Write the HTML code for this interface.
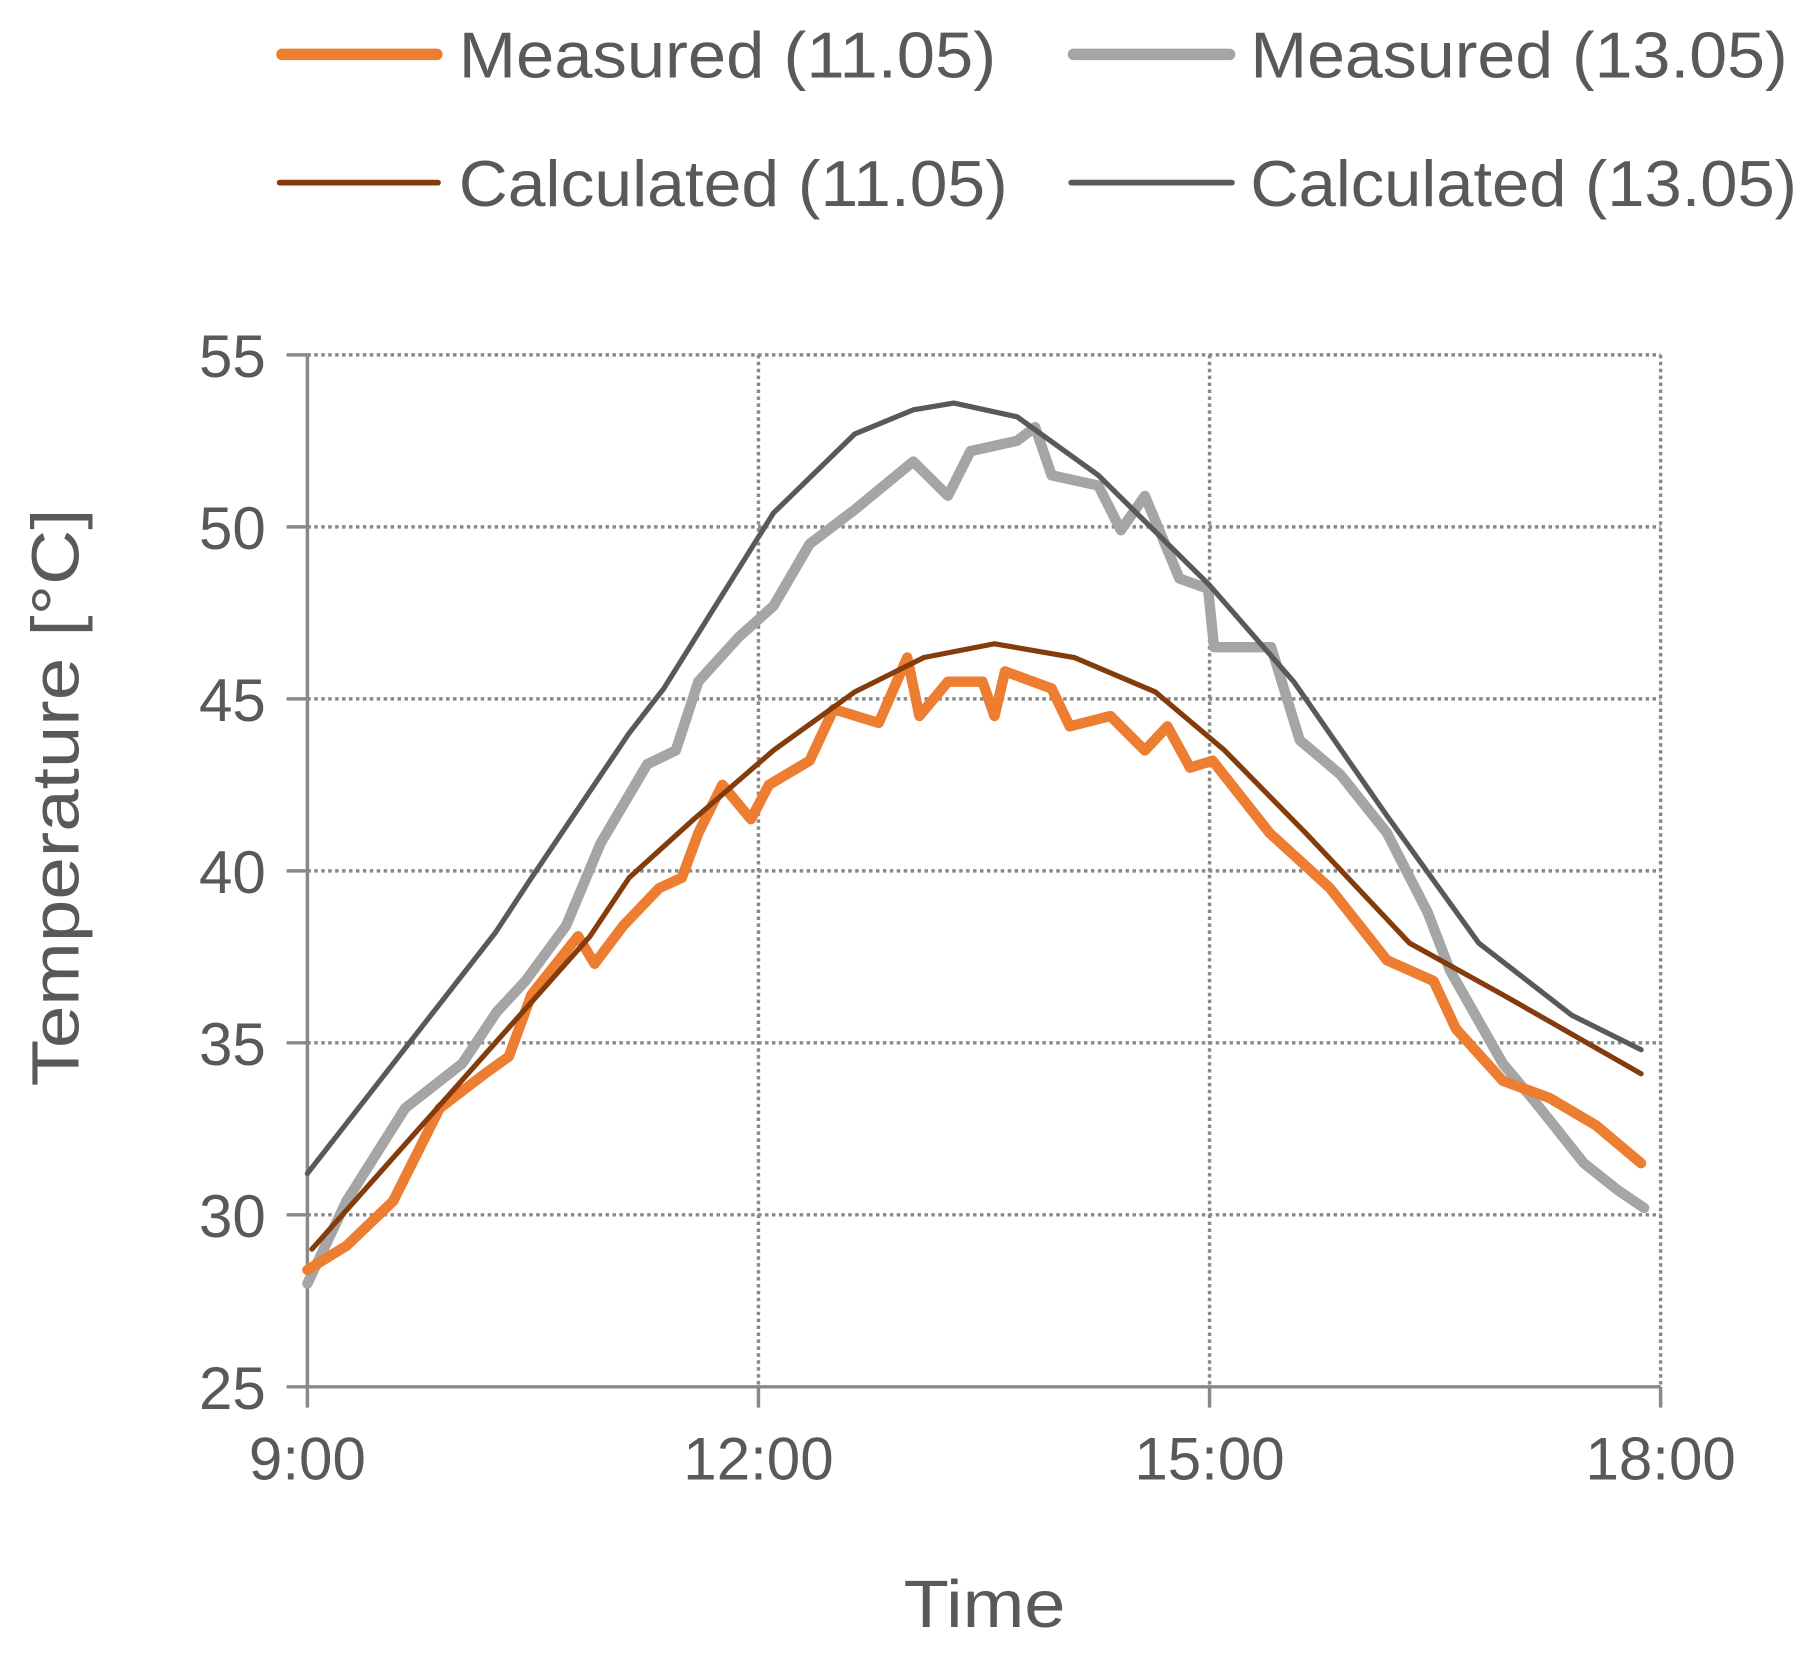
<!DOCTYPE html>
<html><head><meta charset="utf-8"><style>
html,body{margin:0;padding:0;background:#fff;}
svg{display:block;}
text{font-family:"Liberation Sans",sans-serif;fill:#595959;}
</style></head>
<body>
<svg id="chart" width="1812" height="1655" viewBox="0 0 1568 1432">
<g id="grid"></g>
<g id="axes"></g>
<g id="series"></g>
<g>
 <line x1="244" y1="47" x2="378" y2="47" stroke="#ED7D31" stroke-width="10" stroke-linecap="round"/>
 <text x="397" y="67" font-size="56" textLength="465" lengthAdjust="spacingAndGlyphs">Measured (11.05)</text>
 <line x1="929" y1="47" x2="1064" y2="47" stroke="#A5A5A5" stroke-width="10" stroke-linecap="round"/>
 <text x="1082" y="67" font-size="56" textLength="465" lengthAdjust="spacingAndGlyphs">Measured (13.05)</text>
 <line x1="242" y1="158" x2="379" y2="158" stroke="#843C0C" stroke-width="5" stroke-linecap="round"/>
 <text x="397" y="178" font-size="56" textLength="475" lengthAdjust="spacingAndGlyphs">Calculated (11.05)</text>
 <line x1="927" y1="158" x2="1066" y2="158" stroke="#595959" stroke-width="5" stroke-linecap="round"/>
 <text x="1082" y="178" font-size="56" textLength="473" lengthAdjust="spacingAndGlyphs">Calculated (13.05)</text>
</g>
<text x="852" y="1408" font-size="58" text-anchor="middle" textLength="140" lengthAdjust="spacingAndGlyphs">Time</text>
<text transform="translate(68,690) rotate(-90)" font-size="58" text-anchor="middle" textLength="500" lengthAdjust="spacingAndGlyphs">Temperature [°C]</text>
</svg>
<script>
const yTicks=[25,30,35,40,45,50,55];
const xTicks=[9,12,15,18];
const xTickLabels=["9:00","12:00","15:00","18:00"];
const calc13Hours=[9,10.25,10.49,11.14,11.37,12.1,12.64,13.03,13.3,13.72,14.26,15,15.56,16.18,16.79,17.41,17.87];
const calc13Temps=[31.2,38.2,39.8,44,45.3,50.4,52.7,53.4,53.6,53.2,51.5,48.3,45.5,41.6,37.9,35.8,34.8];
const calc11Hours=[9.03,10.88,11.14,11.57,12.1,12.64,13.1,13.57,14.1,14.64,15.1,15.64,16.33,16.95,17.87];
const calc11Temps=[29,38.1,39.8,41.5,43.5,45.2,46.2,46.6,46.2,45.2,43.5,41.1,37.9,36.4,34.1];
const meas11Hours=[9,9.26,9.57,9.88,10.18,10.34,10.49,10.8,10.91,11.1,11.34,11.49,11.6,11.76,11.95,12.07,12.34,12.5,12.8,12.99,13.07,13.26,13.49,13.57,13.64,13.95,14.07,14.34,14.57,14.72,14.87,15.02,15.4,15.8,16.18,16.49,16.64,16.95,17.26,17.57,17.87];
const meas11Temps=[28.4,29.1,30.4,33.1,34.1,34.6,36.4,38.1,37.3,38.4,39.5,39.8,41.1,42.5,41.5,42.5,43.2,44.7,44.3,46.2,44.5,45.5,45.5,44.5,45.8,45.3,44.2,44.5,43.5,44.2,43,43.2,41.1,39.5,37.4,36.8,35.4,33.9,33.4,32.6,31.5];
const meas13Hours=[9,9.26,9.65,10.03,10.26,10.45,10.72,10.95,11.26,11.45,11.6,11.87,12.1,12.34,12.64,13.03,13.26,13.41,13.72,13.84,13.95,14.26,14.41,14.57,14.8,14.99,15.03,15.41,15.6,15.87,16.18,16.45,16.6,16.95,17.18,17.49,17.72,17.89];
const meas13Temps=[28,30.4,33.1,34.4,35.9,36.8,38.4,40.8,43.1,43.5,45.5,46.8,47.7,49.5,50.5,51.9,50.9,52.2,52.5,52.9,51.5,51.2,49.9,50.9,48.5,48.2,46.5,46.5,43.8,42.8,41.1,38.8,37.1,34.4,33.2,31.5,30.7,30.2];

const NS="http://www.w3.org/2000/svg";
const X0=266,X1=1437,Y0=1200,Y1=307;
function xs(h){return X0+(h-9)/9*(X1-X0);}
function ys(t){return Y0-(t-25)/30*(Y0-Y1);}
function mk(tag,attrs,parent){const e=document.createElementNS(NS,tag);for(const k in attrs)e.setAttribute(k,attrs[k]);parent.appendChild(e);return e;}
const grid=document.getElementById('grid'),axes=document.getElementById('axes'),series=document.getElementById('series');
yTicks.forEach(t=>{
  const y=ys(t);
  if(t>25){const g=mk('line',{x1:X0,x2:X1,y1:y,y2:y,stroke:'#898989','stroke-width':3,'stroke-dasharray':'3 3'},grid);
  
  }
  const tk=mk('line',{x1:248,x2:X0,y1:y,y2:y,stroke:'#898989','stroke-width':3},axes);
  
  
  const lb=mk('text',{x:230,y:y+19,'font-size':52,'text-anchor':'end'},axes);
  lb.textContent=t;
  
  
});
xTicks.forEach((h,i)=>{
  const x=xs(h);
  if(i>0){const g=mk('line',{x1:x,x2:x,y1:Y1,y2:Y0,stroke:'#898989','stroke-width':3,'stroke-dasharray':'3 3'},grid);
  
  }
  const tk=mk('line',{x1:x,x2:x,y1:Y0,y2:1218,stroke:'#898989','stroke-width':3},axes);
  
  
  const lb=mk('text',{x:x,y:1280,'font-size':52,'text-anchor':'middle'},axes);
  lb.textContent=xTickLabels[i];
  
  
});
const ya=mk('line',{x1:X0,x2:X0,y1:Y1,y2:Y0,stroke:'#898989','stroke-width':3},axes);


const xa=mk('line',{x1:X0,x2:X1,y1:Y0,y2:Y0,stroke:'#898989','stroke-width':3},axes);


function line(hs,ts,color,w,name){
  const d=hs.map((h,i)=>(i?'L':'M')+xs(h).toFixed(1)+' '+ys(ts[i]).toFixed(1)).join(' ');
  const p=mk('path',{d:d,fill:'none',stroke:color,'stroke-width':w,'stroke-linejoin':'round','stroke-linecap':'round'},series);
  
  
}
line(meas13Hours,meas13Temps,'#A5A5A5',9,'measured-1305-line');
line(meas11Hours,meas11Temps,'#ED7D31',9,'measured-1105-line');
line(calc11Hours,calc11Temps,'#843C0C',4.5,'calculated-1105-line');
line(calc13Hours,calc13Temps,'#595959',4.5,'calculated-1305-line');
</script>
</body></html>
